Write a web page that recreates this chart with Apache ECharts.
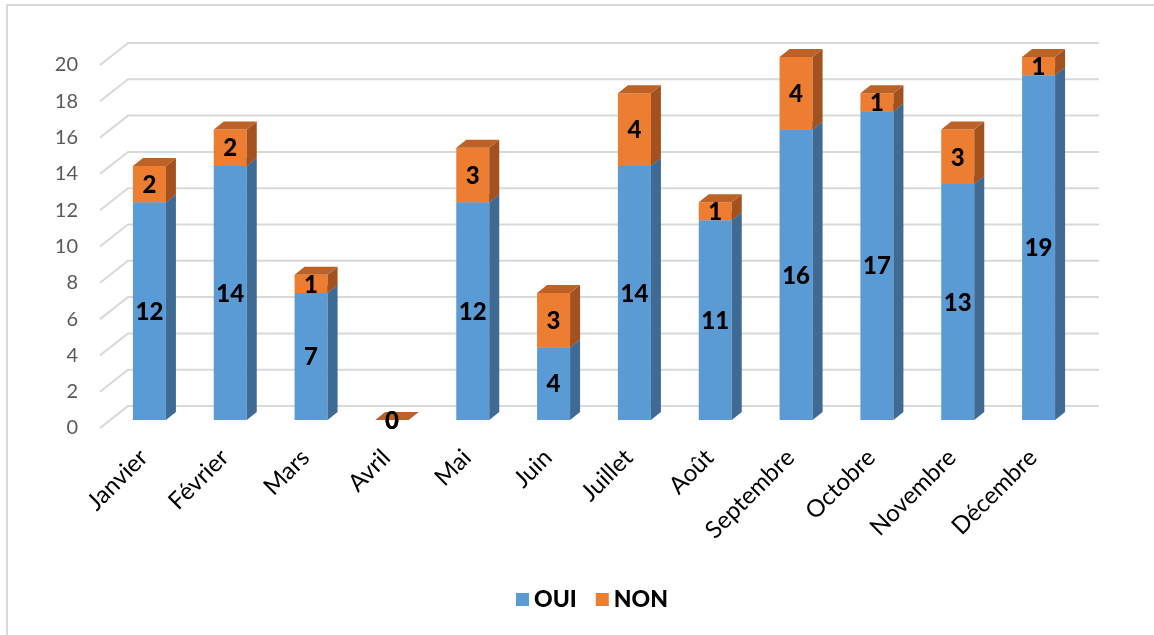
<!DOCTYPE html>
<html>
<head>
<meta charset="utf-8">
<script src="https://cdn.jsdelivr.net/npm/echarts@6/dist/echarts.min.js"></script>
<style>
  html, body { margin: 0; padding: 0; background: #fff; }
  #main { width: 1154px; height: 635px; }
</style>
</head>
<body>
<div id="main"></div>
<script>
// données
var months = ['Janvier', 'Février', 'Mars', 'Avril', 'Mai', 'Juin', 'Juillet', 'Août', 'Septembre', 'Octobre', 'Novembre', 'Décembre'];
var oui = [12, 14, 7, 0, 12, 4, 14, 11, 16, 17, 13, 19];
var non = [2, 2, 1, 0, 3, 3, 4, 1, 4, 1, 3, 1];
var yTicks = [0, 2, 4, 6, 8, 10, 12, 14, 16, 18, 20];

var FONT = 'Lato, "Open Sans", sans-serif';

// faces 3D : avant, côté, dessus
function bar3d(front, side, top) {
  return function (params, api) {
    var i = api.value(0), lo = api.value(1), hi = api.value(2), lab = api.value(3);
    var pLo = api.coord([i, lo]), pHi = api.coord([i, hi]);
    var w = 33, dx = 10, dy = 8;
    var x0 = pLo[0] - w / 2, x1 = pLo[0] + w / 2, yb = pLo[1], yt = pHi[1];
    return {
      type: 'group',
      children: [
        { type: 'rect', shape: { x: x0, y: yt, width: w, height: yb - yt }, style: { fill: front } },
        { type: 'polygon', shape: { points: [[x1, yt], [x1 + dx, yt - dy], [x1 + dx, yb - dy], [x1, yb]] }, style: { fill: side } },
        { type: 'polygon', shape: { points: [[x0, yt], [x0 + dx, yt - dy], [x1 + dx, yt - dy], [x1, yt]] }, style: { fill: top } },
        { type: 'text', x: pLo[0], y: (yt + yb) / 2 + 1, style: { text: String(lab), font: '900 24px ' + FONT, fill: '#000', align: 'center', verticalAlign: 'middle' } }
      ]
    };
  };
}

// lignes du mur du fond + diagonales
function wallLines(params, api) {
  var p = api.coord([0, api.value(1)]);
  var cs = params.coordSys;
  var left = cs.x, right = cs.x + cs.width;
  return {
    type: 'polyline',
    shape: { points: [[left - 9, p[1] + 8], [left + 19, p[1] - 14], [right + 20, p[1] - 14]] },
    style: { stroke: '#D9D9D9', lineWidth: 2, fill: null }
  };
}

var chart = echarts.init(document.getElementById('main'));
var option = {
  backgroundColor: '#fff',
  animation: false,
  graphic: [
    { type: 'polyline', shape: { points: [[7, 636], [7, 5], [1160, 5]] }, style: { stroke: '#D9D9D9', lineWidth: 2, fill: null } }
  ],
  legend: {
    data: ['OUI', 'NON'],
    icon: 'rect',
    itemWidth: 13,
    itemHeight: 13,
    itemGap: 19,
    left: 511,
    top: 583,
    textStyle: { fontFamily: FONT, fontWeight: 900, fontSize: 23, color: '#000' }
  },
  grid: [
    { left: 109, top: 57, width: 970, height: 363 },
    { left: 109, top: 65, width: 970, height: 363 }
  ],
  xAxis: [
    { type: 'category', data: months, gridIndex: 0, show: false },
    {
      type: 'category', data: months, gridIndex: 1,
      axisLine: { show: false }, axisTick: { show: false },
      axisLabel: { rotate: 45, margin: 20, padding: [0, 8, 0, 0], interval: 0, fontFamily: FONT, fontSize: 24, color: '#000' }
    }
  ],
  yAxis: [
    { type: 'value', gridIndex: 0, min: yTicks[0], max: yTicks[yTicks.length - 1], interval: 2, show: false },
    {
      type: 'value', gridIndex: 1, min: yTicks[0], max: yTicks[yTicks.length - 1], interval: 2,
      axisLine: { show: false }, axisTick: { show: false }, splitLine: { show: false },
      axisLabel: { margin: 31, fontFamily: FONT, fontSize: 20, color: '#595959' }
    }
  ],
  series: [
    {
      type: 'custom', name: 'wall', xAxisIndex: 0, yAxisIndex: 0, silent: true, z: 1,
      renderItem: wallLines,
      data: yTicks.map(function (v) { return [0, v]; })
    },
    {
      type: 'custom', name: 'OUI', xAxisIndex: 0, yAxisIndex: 0, z: 2,
      itemStyle: { color: '#5B9BD5' },
      renderItem: bar3d('#5B9BD5', '#3F6A93', '#4A86BE'),
      data: months.map(function (m, i) { return [i, 0, oui[i], oui[i]]; })
    },
    {
      type: 'custom', name: 'NON', xAxisIndex: 0, yAxisIndex: 0, z: 3,
      itemStyle: { color: '#ED7D31' },
      renderItem: bar3d('#ED7D31', '#A3521F', '#BD6226'),
      data: months.map(function (m, i) { return [i, oui[i], oui[i] + non[i], non[i]]; })
    }
  ]
};
chart.setOption(option);
</script>
</body>
</html>
